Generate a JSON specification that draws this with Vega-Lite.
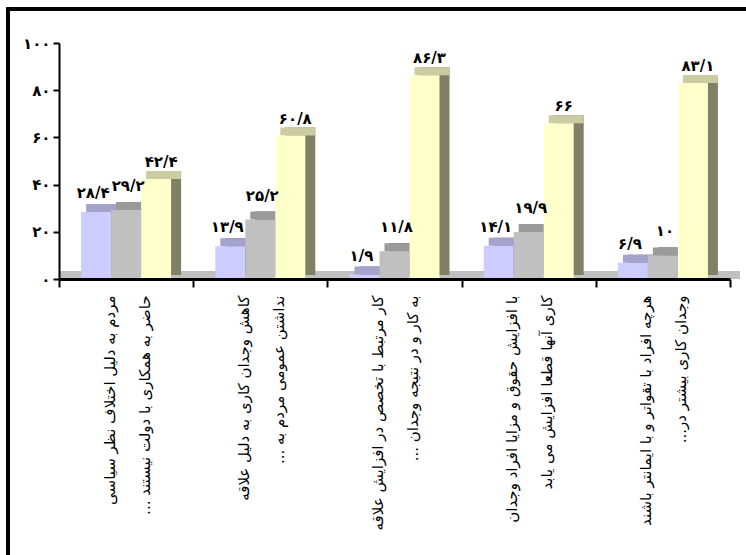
{
  "$schema": "https://vega.github.io/schema/vega-lite/v6.json",
  "width": 738,
  "height": 546,
  "autosize": {"type": "none"},
  "padding": {"left": 8, "top": 9, "right": 0, "bottom": 0},
  "background": "white",
  "config": {
    "view": {"stroke": "black", "strokeWidth": 4, "strokeDash": [734, 1288, 544, 2], "strokeCap": "square"},
    "font": "DejaVu Sans"
  },
  "data": {
    "values": [
      {"cat": "مردم به دلیل اختلاف نظر سیاسی|حاضر به همکاری با دولت نیستند ...\u200f", "s": "A", "v": 28.4, "lab": "۲۸/۴"},
      {"cat": "مردم به دلیل اختلاف نظر سیاسی|حاضر به همکاری با دولت نیستند ...\u200f", "s": "B", "v": 29.2, "lab": "۲۹/۲"},
      {"cat": "مردم به دلیل اختلاف نظر سیاسی|حاضر به همکاری با دولت نیستند ...\u200f", "s": "C", "v": 42.4, "lab": "۴۲/۴"},
      {"cat": "کاهش وجدان کاری به دلیل علاقه|نداشتن عمومی مردم به ...\u200f", "s": "A", "v": 13.9, "lab": "۱۳/۹"},
      {"cat": "کاهش وجدان کاری به دلیل علاقه|نداشتن عمومی مردم به ...\u200f", "s": "B", "v": 25.2, "lab": "۲۵/۲"},
      {"cat": "کاهش وجدان کاری به دلیل علاقه|نداشتن عمومی مردم به ...\u200f", "s": "C", "v": 60.8, "lab": "۶۰/۸"},
      {"cat": "کار مرتبط با تخصص در افزایش علاقه|به کار و در نتیجه وجدان ...\u200f", "s": "A", "v": 1.9, "lab": "۱/۹"},
      {"cat": "کار مرتبط با تخصص در افزایش علاقه|به کار و در نتیجه وجدان ...\u200f", "s": "B", "v": 11.8, "lab": "۱۱/۸"},
      {"cat": "کار مرتبط با تخصص در افزایش علاقه|به کار و در نتیجه وجدان ...\u200f", "s": "C", "v": 86.3, "lab": "۸۶/۳"},
      {"cat": "با افزایش حقوق و مزایا افراد وجدان|کاری آنها قطعا افزایش می یابد", "s": "A", "v": 14.1, "lab": "۱۴/۱"},
      {"cat": "با افزایش حقوق و مزایا افراد وجدان|کاری آنها قطعا افزایش می یابد", "s": "B", "v": 19.9, "lab": "۱۹/۹"},
      {"cat": "با افزایش حقوق و مزایا افراد وجدان|کاری آنها قطعا افزایش می یابد", "s": "C", "v": 66, "lab": "۶۶"},
      {"cat": "هرچه افراد با تقواتر و با ایمانتر باشند|وجدان کاری بیشتر در...\u200f", "s": "A", "v": 6.9, "lab": "۶/۹"},
      {"cat": "هرچه افراد با تقواتر و با ایمانتر باشند|وجدان کاری بیشتر در...\u200f", "s": "B", "v": 10, "lab": "۱۰"},
      {"cat": "هرچه افراد با تقواتر و با ایمانتر باشند|وجدان کاری بیشتر در...\u200f", "s": "C", "v": 83.1, "lab": "۸۳/۱"}
    ]
  },
  "layer": [
    {
      "data": {"values": [{"edge": "top"}]},
      "mark": {"type": "rule", "color": "black", "strokeWidth": 4, "strokeCap": "square"},
      "encoding": {"y": {"datum": 114.41, "type": "quantitative"}}
    },
    {
      "encoding": {
        "x": {
          "field": "cat",
          "type": "nominal",
          "sort": null,
          "scale": {"range": [51, 722], "paddingInner": 0, "paddingOuter": 0},
          "axis": {
            "orient": "bottom",
            "offset": -276,
            "title": null,
            "grid": false,
            "domainColor": "black",
            "domainWidth": 3,
            "tickColor": "black",
            "tickWidth": 2,
            "tickSize": 8,
            "tickBand": "extent",
            "labelAngle": 270,
            "labelAlign": "right",
            "labelBaseline": "middle",
            "labelFontSize": 15,
            "labelFont": "DejaVu Sans",
            "labelColor": "black",
            "labelLineHeight": 35,
            "labelPadding": 8,
            "labelOffset": -17,
            "labelLimit": 400,
            "labelExpr": "split(datum.label, '|')",
            "zindex": 1
          }
        },
        "y": {
          "field": "v",
          "type": "quantitative",
          "scale": {"domain": [0, 100], "range": [270, 34], "nice": false},
          "axis": {
            "orient": "left",
            "offset": -51,
            "title": null,
            "grid": false,
            "values": [0, 20, 40, 60, 80, 100],
            "domainColor": "black",
            "domainWidth": 2,
            "tickColor": "black",
            "tickWidth": 2,
            "tickSize": 6,
            "labelFontSize": 15,
            "labelFontWeight": "bold",
            "labelColor": "black",
            "labelPadding": 3,
            "labelExpr": "replace(replace(replace(replace(replace(replace(datum.label, regexp('0','g'), '۰'), regexp('1','g'), '۱'), regexp('2','g'), '۲'), regexp('4','g'), '۴'), regexp('6','g'), '۶'), regexp('8','g'), '۸')",
            "zindex": 1
          }
        }
      },
      "layer": [
        {"transform": [{"filter": "datum.s === 'A'"}], "mark": {"type": "bar", "color": "#C0C0C0", "width": 134.2, "yOffset": -8}, "encoding": {"y": {"datum": 0, "type": "quantitative"}, "y2": {"datum": 0}}},
        {"transform": [{"filter": "datum.s === 'A'"}], "mark": {"type": "bar", "color": "#C0C0C0", "width": 134.2, "yOffset": -8, "xOffset": 10}, "encoding": {"y": {"datum": 0, "type": "quantitative"}, "y2": {"datum": 0}}},

        {"transform": [{"filter": "datum.s === 'A'"}], "mark": {"type": "bar", "color": "#666680", "width": 30, "xOffset": -20, "yOffset": -8, "y2Offset": -4}, "encoding": {"y2": {"datum": 0}}},
        {"transform": [{"filter": "datum.s === 'A'"}], "mark": {"type": "bar", "color": "#A3A3CC", "width": 35, "xOffset": -22.5, "yOffset": -8, "y2Offset": 0}, "encoding": {"y2": {"field": "v"}}},
        {"transform": [{"filter": "datum.s === 'A'"}], "mark": {"type": "bar", "color": "#CCCCFF", "width": 30, "xOffset": -30}, "encoding": {"y2": {"datum": 0}}},

        {"transform": [{"filter": "datum.s === 'B'"}], "mark": {"type": "bar", "color": "#606060", "width": 30, "xOffset": 10, "yOffset": -8, "y2Offset": -4}, "encoding": {"y2": {"datum": 0}}},
        {"transform": [{"filter": "datum.s === 'B'"}], "mark": {"type": "bar", "color": "#9A9A9A", "width": 35, "xOffset": 7.5, "yOffset": -8, "y2Offset": 0}, "encoding": {"y2": {"field": "v"}}},
        {"transform": [{"filter": "datum.s === 'B'"}], "mark": {"type": "bar", "color": "#C0C0C0", "width": 30, "xOffset": 0}, "encoding": {"y2": {"datum": 0}}},

        {"transform": [{"filter": "datum.s === 'C'"}], "mark": {"type": "bar", "color": "#808066", "width": 30, "xOffset": 40, "yOffset": -8, "y2Offset": -4}, "encoding": {"y2": {"datum": 0}}},
        {"transform": [{"filter": "datum.s === 'C'"}], "mark": {"type": "bar", "color": "#CCCCA3", "width": 35, "xOffset": 37.5, "yOffset": -8, "y2Offset": 0}, "encoding": {"y2": {"field": "v"}}},
        {"transform": [{"filter": "datum.s === 'C'"}], "mark": {"type": "bar", "color": "#FFFFCC", "width": 30, "xOffset": 30}, "encoding": {"y2": {"datum": 0}}},

        {"transform": [{"filter": "datum.s === 'A'"}], "mark": {"type": "text", "dx": -33, "dy": -19, "fontWeight": "bold", "fontSize": 15, "baseline": "middle", "color": "black"}, "encoding": {"text": {"field": "lab"}}},
        {"transform": [{"filter": "datum.s === 'B'"}], "mark": {"type": "text", "dx": 2, "dy": -24, "fontWeight": "bold", "fontSize": 15, "baseline": "middle", "color": "black"}, "encoding": {"text": {"field": "lab"}}},
        {"transform": [{"filter": "datum.s === 'C'"}], "mark": {"type": "text", "dx": 35, "dy": -17, "fontWeight": "bold", "fontSize": 15, "baseline": "middle", "color": "black"}, "encoding": {"text": {"field": "lab"}}}
      ]
    }
  ]
}
